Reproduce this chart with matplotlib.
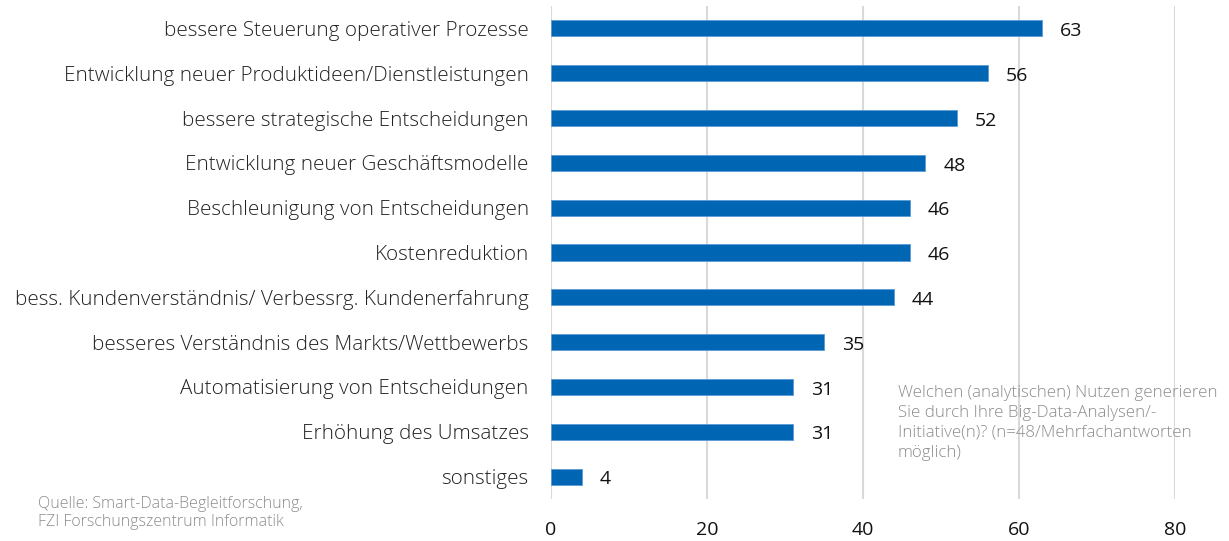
import matplotlib
matplotlib.use("Agg")
import matplotlib.pyplot as plt

plt.rcParams['font.family'] = ['Open Sans', 'DejaVu Sans']
plt.rcParams['font.weight'] = 'light'

CATEGORIES = [
    "bessere Steuerung operativer Prozesse",
    "Entwicklung neuer Produktideen/Dienstleistungen",
    "bessere strategische Entscheidungen",
    "Entwicklung neuer Geschäftsmodelle",
    "Beschleunigung von Entscheidungen",
    "Kostenreduktion",
    "bess. Kundenverständnis/ Verbessrg. Kundenerfahrung",
    "besseres Verständnis des Markts/Wettbewerbs",
    "Automatisierung von Entscheidungen",
    "Erhöhung des Umsatzes",
    "sonstiges",
]
VALUES = [63, 56, 52, 48, 46, 46, 44, 35, 31, 31, 4]
X_TICKS = [0, 20, 40, 60, 80]

BAR_COLOR = "#0066b3"
GRID_COLOR = "#d9d9d9"
NOTE_COLOR = "#8c8c8c"

fig = plt.figure(figsize=(12.29, 5.41), dpi=100)
ax = fig.add_axes([0.4483, 0.0776, 0.5077, 0.9113])

positions = list(range(len(CATEGORIES)))
ax.barh(positions, VALUES, height=0.36, color=BAR_COLOR,
        edgecolor="#5b9bd5", linewidth=0.6, zorder=3)
for pos, val in zip(positions, VALUES):
    ax.text(val + 2.3, pos + 0.06, str(val), va="center", ha="left",
            fontsize=14, color="#111111", fontweight="normal")

ax.set_ylim(len(CATEGORIES) - 0.5, -0.5)
ax.set_xlim(0, 80)
ax.set_yticks(positions)
ax.set_yticklabels(CATEGORIES, fontsize=14.9, color="#222222")
ax.set_xticks(X_TICKS)
ax.set_xticklabels([str(t) for t in X_TICKS], fontsize=14, color="#111111",
                   fontweight="normal")
ax.tick_params(axis="y", length=0, pad=16)
ax.tick_params(axis="x", length=0, pad=16)
ax.grid(axis="x", color=GRID_COLOR, linewidth=1.5, zorder=0)
for spine in ax.spines.values():
    spine.set_visible(False)

fig.text(898 / 1229, 1 - 385 / 541,
         "Welchen (analytischen) Nutzen generieren\nSie durch Ihre Big-Data-Analysen/-\n"
         "Initiative(n)? (n=48/Mehrfachantworten\nmöglich)",
         fontsize=12.2, color=NOTE_COLOR, va="top", ha="left", linespacing=1.33)
fig.text(38 / 1229, 1 - 496 / 541,
         "Quelle: Smart-Data-Begleitforschung,\nFZI Forschungszentrum Informatik",
         fontsize=11.5, color=NOTE_COLOR, va="top", ha="left", linespacing=1.2)

fig.savefig("out.png", dpi=100)
